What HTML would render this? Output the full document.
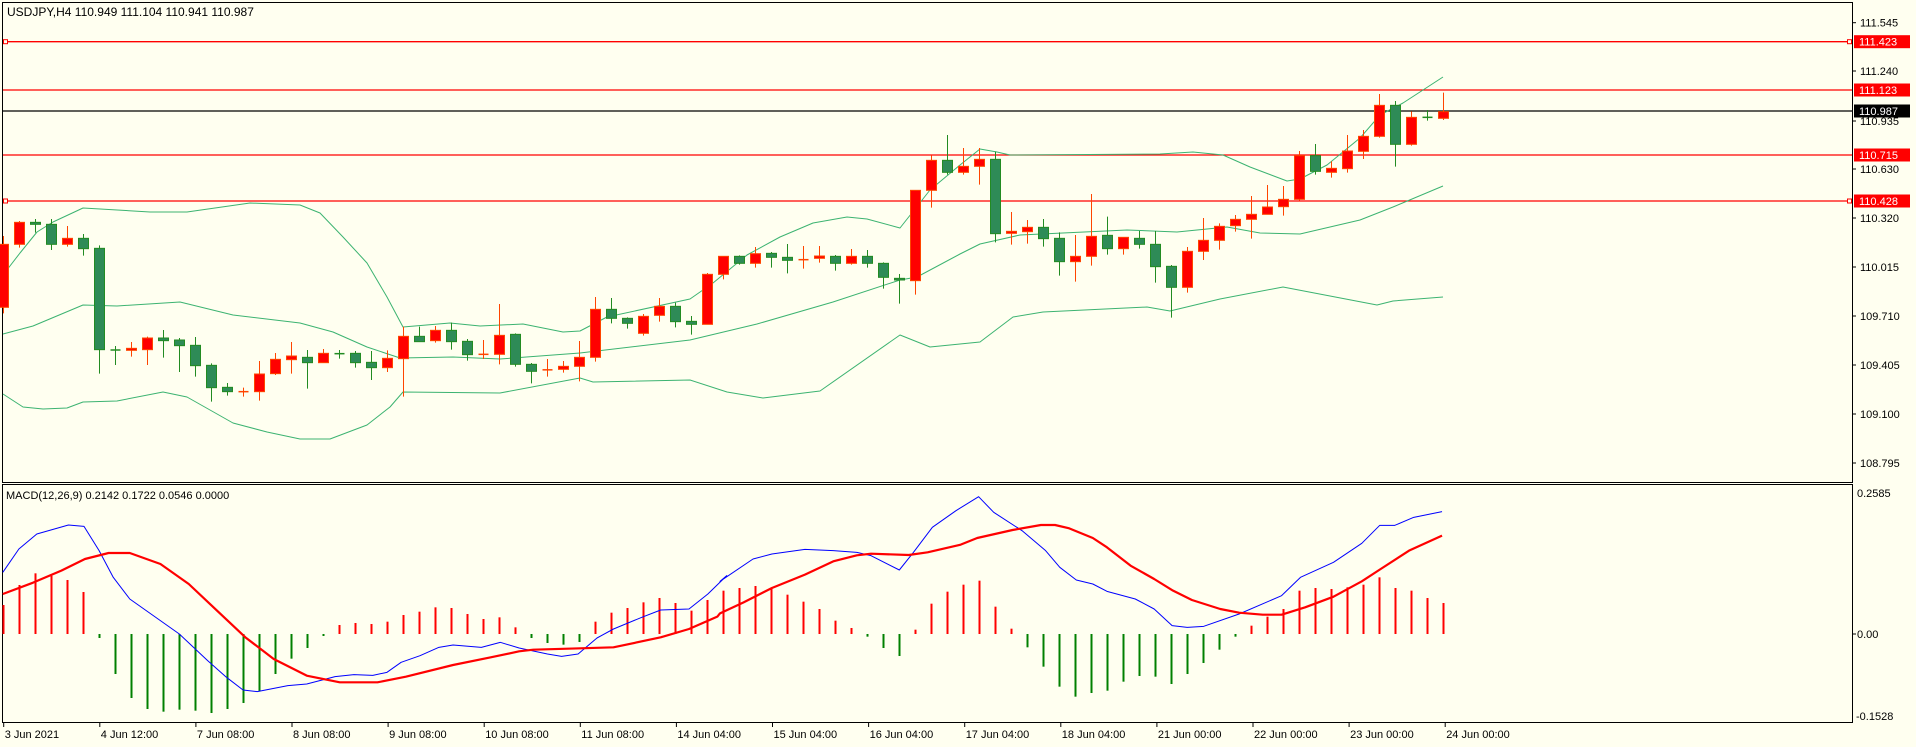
<!DOCTYPE html>
<html><head><meta charset="utf-8"><style>
html,body{margin:0;padding:0;background:#fffff0;}
svg{display:block;}
text{font-family:"Liberation Sans",sans-serif;font-size:11px;fill:#000;}
</style></head><body>
<svg id="s" width="1916" height="747" xmlns="http://www.w3.org/2000/svg">
<rect x="0" y="0" width="1916" height="747" fill="#fffff0"/>
<g id="g"></g>
<text x="7" y="16" style="font-size:12px">USDJPY,H4  110.949 111.104 110.941 110.987</text>
<text x="6" y="499">MACD(12,26,9) 0.2142 0.1722 0.0546 0.0000</text>
</svg>
<script>
var NS="http://www.w3.org/2000/svg",g=document.getElementById('g');
function el(t,a){var e=document.createElementNS(NS,t);for(var k in a)e.setAttribute(k,a[k]);g.appendChild(e);return e;}
function tx(x,y,s,c,anchor){var e=el('text',{x:x,y:y});e.textContent=s;if(c)e.setAttribute('style','fill:'+c);return e;}
// frames
el('rect',{x:2.5,y:2.5,width:1850,height:480,fill:'none',stroke:'#000'});
el('rect',{x:2.5,y:484.5,width:1850,height:238,fill:'none',stroke:'#000'});
// horizontal lines
[[41.7,'#ff0000'],[90,'#ff0000'],[155,'#ff0000'],[201,'#ff0000'],[111,'#000']].forEach(function(h){
 el('line',{x1:3,x2:1852,y1:h[0],y2:h[0],stroke:h[1],'stroke-width':1.3});});
[41.7,201].forEach(function(y){el('rect',{x:3.5,y:y-2,width:4,height:4,fill:'#fffff0',stroke:'#f00'});el('rect',{x:1847.5,y:y-2,width:4,height:4,fill:'#fffff0',stroke:'#f00'});});
// price ticks
var pt=[['111.545',22.7],['111.240',71],['110.935',121],['110.630',169],['110.320',218],['110.015',267],['109.710',316],['109.405',365],['109.100',414],['108.795',463]];
pt.forEach(function(p){el('line',{x1:1852,x2:1856,y1:p[1],y2:p[1],stroke:'#000'});tx(1860,p[1]+4,p[0]);});
[['111.423',41.7,'#ff0000'],['111.123',90,'#ff0000'],['110.987',111,'#000'],['110.715',155,'#ff0000'],['110.428',201,'#ff0000']].forEach(function(p){
 el('rect',{x:1854,y:p[1]-6.5,width:56,height:13,fill:p[2]});tx(1859,p[1]+4,p[0],'#fff');});
// macd axis
el('line',{x1:1852,x2:1856,y1:634,y2:634,stroke:'#000'});
tx(1857,497,'0.2585');tx(1857,638,'0.00');tx(1856,720,'-0.1528');
// time axis
var tl=['3 Jun 2021','4 Jun 12:00','7 Jun 08:00','8 Jun 08:00','9 Jun 08:00','10 Jun 08:00','11 Jun 08:00','14 Jun 04:00','15 Jun 04:00','16 Jun 04:00','17 Jun 04:00','18 Jun 04:00','21 Jun 00:00','22 Jun 00:00','23 Jun 00:00','24 Jun 00:00'];
tl.forEach(function(s,i){var x=3.7+96.1*i;el('line',{x1:x,x2:x,y1:722,y2:727,stroke:'#000'});tx(x+1,738,s);});
// bands
var BC='#3cb371';
function poly(pts,c,w){el('polyline',{points:pts.map(function(p){return p[0]+','+p[1]}).join(' '),fill:'none',stroke:c,'stroke-width':w,'stroke-linejoin':'round'});}
poly([[3,275],[20,253],[37,232],[53,222],[83,208],[150,212],[187,212],[250,203],[300,205],[320,213],[343,237],[367,263],[387,297],[403,327],[450,323],[480,326],[523,324],[563,332],[580,331],[607,317],[690,299],[713,283],[747,255],[780,237],[813,223],[847,217],[867,219],[900,228],[930,190],[960,165],[980,149],[997,152],[1010,155],[1160,154],[1193,152],[1223,155],[1250,167],[1287,181],[1300,179],[1327,165],[1360,138],[1380,115],[1403,103],[1443,77]],BC,1);
poly([[3,334],[33,326],[83,305],[117,306],[180,302],[233,315],[300,323],[333,332],[367,347],[400,358],[453,357],[500,359],[580,353],[690,340],[757,324],[833,302],[900,280],[917,277],[960,254],[980,244],[1020,235],[1127,230],[1177,232],[1227,227],[1260,233],[1300,234],[1360,220],[1393,207],[1443,186]],BC,1);
poly([[3,394],[23,407],[43,409],[67,408],[83,402],[117,401],[163,392],[187,397],[233,423],[267,432],[300,439],[330,439],[367,425],[390,407],[403,392],[500,393],[580,378],[593,382],[690,380],[727,392],[763,398],[820,391],[900,335],[930,347],[960,344],[980,342],[1013,317],[1043,312],[1147,307],[1170,311],[1220,299],[1283,287],[1377,305],[1393,301],[1443,297]],BC,1);
// candles [color, bodyTop, bodyBot, wickTop, wickBot] in zoom coords
var A=[['R',133,322,108,340],['R',67,133,63,143],['G',67,73,57,98],['G',73,133,57,150],['R',115,133,78,140],['G',115,146,102,167],['G',145,449,136,521],['G',448,452,438,495],['R',445,451,426,470],['R',414,449,410,495],['G',414,422,390,473],['G',420,437,414,516],['G',436,497,411,530],['G',496,563,490,605],['G',562,575,549,587],['R',574,576,563,590],['R',522,575,483,602],['R',478,521,459,525],['R',468,479,426,521],['G',472,488,450,566],['R',460,488,447,488],['G',460,462,450,476],['G',460,488,453,503],['G',487,503,453,540],['R',475,503,451,516],['R',409,476,380,590],['G',409,425,380,425],['R',391,422,378,428],['G',391,425,368,449],['G',424,464,417,482]];
var B=[['R',642,644,600,657],['R',586,643,492,673],['G',583,673,580,680],['G',673,694,669,730],['R',688,691,657,710],['R',679,688,663,698],['R',652,679,603,724],['R',508,652,471,665],['G',508,535,474,550],['G',535,550,532,566],['R',529,580,522,587],['R',499,526,474,545],['G',499,545,488,562],['G',544,553,528,584],['R',403,553,399,553],['R',349,403,349,418],['G',349,370,346,374],['R',341,370,321,383],['G',340,352,336,383],['G',352,361,312,400],['R',357,361,318,386],['R',348,355,318,368],['G',349,370,345,392],['R',349,370,327,374],['G',349,370,330,383],['G',370,412,367,446],['G',415,420,402,491],['R',151,422,151,464],['R',61,151,46,203],['G',61,97,-15,104]];
var C=[['R',259,277,204,284],['R',238,259,204,314],['G',238,461,215,487],['R',454,460,396,494],['R',442,455,420,491],['G',442,476,417,500],['G',475,545,457,587],['R',529,545,465,605],['R',469,529,342,557],['G',466,506,410,524],['R',472,506,472,524],['G',475,493,453,506],['G',493,560,453,608],['G',559,622,555,713],['R',514,622,501,638],['R',481,514,414,540],['R',439,481,430,509],['R',418,437,405,455],['R',403,418,348,476],['R',381,403,315,403],['R',358,380,318,407],['R',227,358,213,362],['G',227,274,192,284],['R',265,277,244,293],['R',213,266,165,278],['R',169,214,150,237],['R',76,169,42,173],['G',76,193,63,260],['R',112,193,94,197],['G',111,113,90,122],['R',95,115,38,120]];
function drawC(arr,start,off){arr.forEach(function(c,k){var i=start+k,x=Math.round(3.3+16*i)+0.5;
 var t=off+c[1]/3,b=off+c[2]/3,wt=off+c[3]/3,wb=off+c[4]/3;
 var wc=c[0]=='R'?'#ff4500':'#228b22';
 el('line',{x1:x,x2:x,y1:wt,y2:wb,stroke:wc});
 if(b-t<1.5){el('line',{x1:x-5,x2:x+5,y1:(t+b)/2,y2:(t+b)/2,stroke:wc,'stroke-width':1.5});}
 else el('rect',{x:x-5,y:t,width:10,height:b-t,fill:c[0]=='R'?'#ff0000':'#2e8b57',stroke:wc});});}
drawC(A,0,200);drawC(B,30,140);drawC(C,60,80);
// clip left partial handled by frame
// MACD histogram (zoom y, zero at 450)
var H=[363,303,268,275,288,324,462,570,642,675,683,677,680,687,675,657,622,570,524,492,456,423,417,420,413,393,383,370,372,390,405,400,430,462,477,482,474,413,386,372,355,342,357,380,348,320,312,306,312,332,353,375,410,432,458,492,516,437,359,323,302,290,368,434,490,548,608,638,627,620,593,576,578,600,570,537,497,458,425,398,375,320,312,315,310,302,280,312,320,342,357];
H.forEach(function(h,i){var x=Math.round(3.3+16*i)+0.5,y=484+h/3;el('line',{x1:x,x2:x,y1:634,y2:y,stroke:h<450?'#ff0000':'#008000','stroke-width':2});});
function cv(pts,ox){return pts.map(function(p){return [ox+p[0]/2.119,484+p[1]/3];});}
var b1=cv([[6,265],[40,195],[78,150],[145,123],[178,127],[210,200],[240,280],[275,345],[320,390],[380,450],[440,530],[480,580],[515,618],[545,623],[610,605],[650,600],[710,578],[750,572],[790,574],[820,565],[850,535],[890,515],[930,490],[960,483],[1020,490],[1060,475],[1100,492],[1160,510],[1190,517],[1225,510],[1265,462],[1300,435],[1360,400],[1400,378],[1460,375],[1500,330],[1540,275]],0);
var b2=cv([[0,292],[70,225],[110,210],[180,196],[240,200],[290,205],[320,215],[380,258],[410,205],[450,130],[500,80],[548,38],[580,85],[640,140],[690,200],[720,250],[755,288],[790,300],[820,322],[880,345],[920,375],[958,425],[990,430],[1025,427],[1100,390],[1190,335],[1230,280],[1300,235],[1360,178],[1398,124],[1430,124],[1470,100],[1530,83]],720);
var r1=cv([[6,330],[70,296],[130,260],[180,225],[230,207],[275,207],[340,240],[400,300],[460,380],[520,460],[580,525],[650,575],[720,595],[800,595],[860,578],[960,543],[1040,520],[1100,502],[1130,497],[1230,493],[1300,490],[1400,460],[1460,435],[1520,398]],0);
var r2=cv([[0,388],[50,355],[110,312],[180,272],[240,232],[290,214],[320,209],[400,213],[440,205],[510,182],[545,162],[620,138],[680,123],[710,123],[740,133],[790,162],[820,190],[870,245],[920,285],[960,320],[1000,348],[1060,375],[1100,386],[1150,392],[1190,392],[1240,370],[1300,338],[1360,292],[1400,255],[1460,200],[1530,155]],720);
poly(b1.concat(b2),'#0000ff',1);
poly(r1.concat(r2),'#ff0000',2.2);
</script>
</body></html>
